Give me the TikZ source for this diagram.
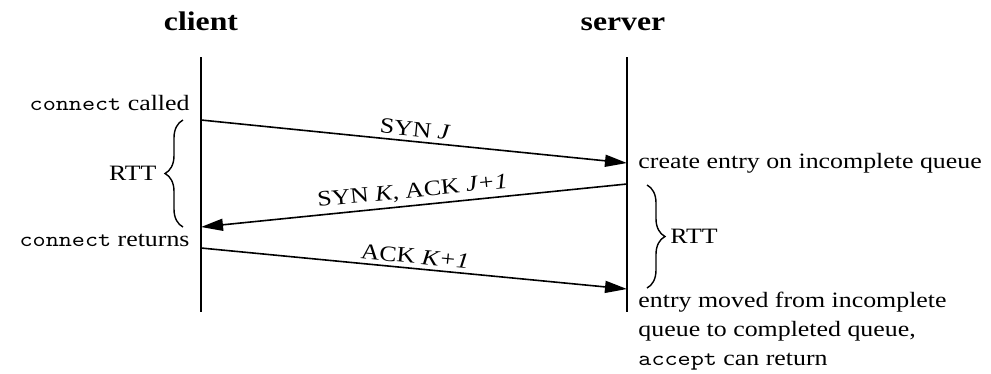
\documentclass[tikz,border=0pt]{standalone}
\usepackage{fontspec}
\setmainfont{Liberation Serif}
\usetikzlibrary{arrows.meta,decorations.pathreplacing}
\tikzset{
  lifeline/.style={line width=1.1bp},
  msg/.style={line width=0.8bp,-{Triangle[length=11bp,width=6bp]}},
  txt/.style={inner sep=0pt,font=\fontsize{11}{14.5}\selectfont,xscale=1.18},
  title/.style={inner sep=0pt,font=\fontsize{13.5}{16}\selectfont\bfseries,xscale=1.18},
  msglabel/.style={txt,sloped,above,inner sep=2bp,pos=0.5},
  bracedeco/.style={decorate,decoration={brace,amplitude=9bp},line width=0.7bp},
}
\newcommand{\ttw}[1]{{\fontsize{10.6}{12}\ttfamily #1}}
\begin{document}
\begin{tikzpicture}[x=0.5bp,y=-0.5bp]
\useasboundingbox (0,0) rectangle (991,373);
% titles
\node[title,anchor=base] (client) at (201,30) {client};
\node[title,anchor=base] (server) at (623,30) {server};
% lifelines
\coordinate (ctop) at (201,57);
\coordinate (cbot) at (201,312);
\coordinate (stop) at (627,57);
\coordinate (sbot) at (627,312);
\draw[lifeline] (ctop) -- (cbot);
\draw[lifeline] (stop) -- (sbot);
% message endpoints
\coordinate (c1) at (201,120);
\coordinate (s1) at (627,163);
\coordinate (s2) at (627,184);
\coordinate (c2) at (201,227);
\coordinate (c3) at (201,248);
\coordinate (s3) at (627,289);
\draw[msg] (c1) -- node[msglabel] (l1) {SYN \textit{J}} (s1);
\draw[msg] (s2) -- node[msglabel] (l2) {SYN \textit{K}, ACK \textit{J+1}} (c2);
\draw[msg] (c3) -- node[msglabel] (l3) {ACK \textit{K+1}} (s3);
% left labels
\node[txt,anchor=east] (cc) at (190,103) {\ttw{connect} called};
\node[txt,anchor=east] (cr) at (190,240) {\ttw{connect} returns};
% left brace
\coordinate (lb1) at (183,227);
\coordinate (lb2) at (183,120);
\draw[bracedeco] (lb1) -- (lb2);
\node[txt,anchor=east] (rtt1) at (157,173) {RTT};
% right labels
\node[txt,anchor=west] (ce) at (638,163) {create entry on incomplete queue};
\node[txt,anchor=north west,align=left] (em) at (638,292) {entry moved from incomplete\\queue to completed queue,\\\ttw{accept} can return};
% right brace
\coordinate (rb1) at (647,185);
\coordinate (rb2) at (647,288);
\draw[bracedeco] (rb1) -- (rb2);
\node[txt,anchor=west] (rtt2) at (670,236) {RTT};
\end{tikzpicture}
\end{document}
